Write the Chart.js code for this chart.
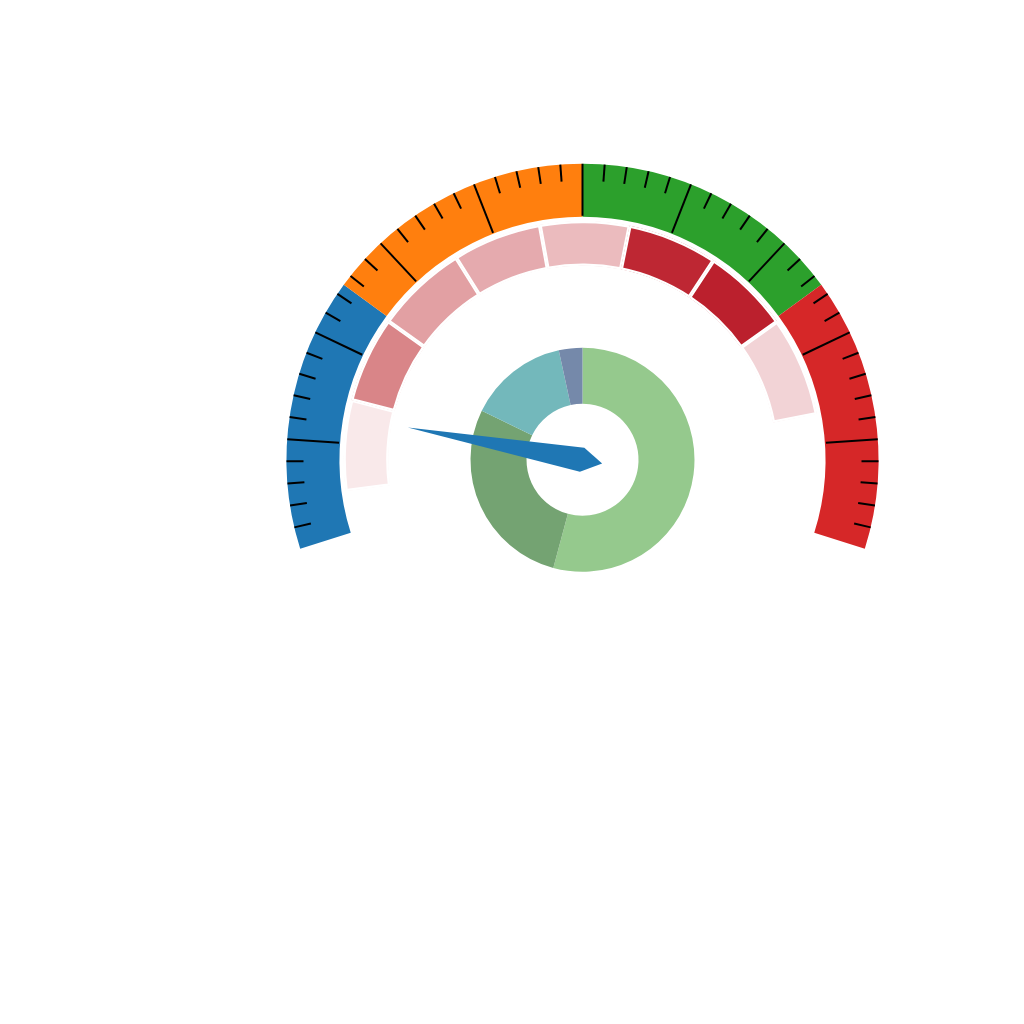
<!DOCTYPE html>
<html>
<head>
<meta charset="utf-8">
<script src="https://cdn.jsdelivr.net/npm/chart.js@4.4.1/dist/chart.umd.min.js"></script>
<style>
  html, body { margin: 0; padding: 0; background: #ffffff; }
  canvas { display: block; }
</style>
</head>
<body>
<canvas id="gauge" width="1024" height="1024"></canvas>
<script>
// ---------------- data ----------------
const scaleMin = 0;
const scaleMax = 100;

const bandLabels = ['Band 1', 'Band 2', 'Band 3', 'Band 4'];
const bandValues = [25, 25, 25, 25];

const ringLabels = ['R1', 'R2', 'R3', 'R4', 'R5', 'R6', 'R7', 'R8'];
const ringStart = 4.65;
const ringValues = [10.25, 9.75, 10.45, 10.1, 10.1, 10.2, 9.9, 11.3];

const pieLabels = ['P1', 'P2', 'P3', 'P4'];
const pieValues = [54.2, 28.0, 14.4, 3.4];

const majorTicks = [10, 20, 30, 40, 50, 60, 70, 80, 90];
const minorTicks = [2, 4, 6, 8, 12, 14, 16, 18, 22, 24, 26, 28, 32, 34, 36, 38,
                    42, 44, 46, 48, 52, 54, 56, 58, 62, 64, 66, 68, 72, 74, 76, 78,
                    82, 84, 86, 88, 92, 94, 96, 98];

const needleValue = 13;

// ---------------- styles ----------------
const bandColors = ['#1f77b4', '#ff7f0e', '#2ca02c', '#d62728'];
const ringColors = ['#f9e9ea', '#d98588', '#e2a0a3', '#e5aaae', '#ebbbbe', '#be2733', '#bb202d', '#f2d3d6'];
const pieColors = ['#95c98d', '#74a372', '#73b8bb', '#7589aa'];
const needleColor = '#1f77b4';

const gaugeRotation = -107.5;   // degrees, clockwise from top
const gaugeSweep = 215;         // degrees

function valueToDeg(v) {
  return gaugeRotation + (v - scaleMin) / (scaleMax - scaleMin) * gaugeSweep;
}
const ringSum = ringValues.reduce((a, b) => a + b, 0);

// ticks + needle drawn from the outer dataset's arc geometry
const gaugeDecor = {
  id: 'gaugeDecor',
  afterDatasetsDraw(chart) {
    const meta = chart.getDatasetMeta(0);
    const first = meta.data[0];
    const last = meta.data[meta.data.length - 1];
    const cx = first.x, cy = first.y;
    const R = first.outerRadius;
    const a0 = first.startAngle, a1 = last.endAngle;
    const ang = v => a0 + (v - scaleMin) / (scaleMax - scaleMin) * (a1 - a0);
    const ctx = chart.ctx;
    ctx.save();
    ctx.strokeStyle = '#000000';
    ctx.lineCap = 'butt';
    const tick = (v, len, w) => {
      const a = ang(v);
      ctx.lineWidth = w;
      ctx.beginPath();
      ctx.moveTo(cx + R * Math.cos(a), cy + R * Math.sin(a));
      ctx.lineTo(cx + (R - len) * Math.cos(a), cy + (R - len) * Math.sin(a));
      ctx.stroke();
    };
    minorTicks.forEach(v => tick(v, 17, 2));
    majorTicks.forEach(v => tick(v, 52, 2));

    // needle
    const a = ang(needleValue);
    const ux = Math.cos(a), uy = Math.sin(a);
    const px = -uy, py = ux;
    const pt = (along, perp) => [cx + ux * along + px * perp, cy + uy * along + py * perp];
    const pts = [pt(R * 0.6, 0), pt(0.4, 12.2), pt(-20, 0), pt(0.4, -12.2)];
    ctx.fillStyle = needleColor;
    ctx.beginPath();
    ctx.moveTo(pts[0][0], pts[0][1]);
    for (let i = 1; i < pts.length; i++) ctx.lineTo(pts[i][0], pts[i][1]);
    ctx.closePath();
    ctx.fill();
    ctx.restore();
  }
};

new Chart(document.getElementById('gauge'), {
  type: 'doughnut',
  data: {
    labels: bandLabels,
    datasets: [
      {
        label: 'bands', data: bandValues, backgroundColor: bandColors,
        borderWidth: 0, weight: 53, rotation: gaugeRotation, circumference: gaugeSweep
      },
      {
        label: 'gap1', data: [1], backgroundColor: 'rgba(0,0,0,0)', borderWidth: 0, weight: 4
      },
      {
        label: 'ring', data: ringValues, backgroundColor: ringColors,
        borderColor: '#ffffff', borderWidth: 2, borderAlign: 'inner', weight: 45,
        rotation: valueToDeg(ringStart),
        circumference: ringSum / (scaleMax - scaleMin) * gaugeSweep
      },
      {
        label: 'gap2', data: [1], backgroundColor: 'rgba(0,0,0,0)', borderWidth: 0, weight: 82
      },
      {
        label: 'pie', data: pieValues, backgroundColor: pieColors,
        borderWidth: 0, weight: 56, rotation: 0, circumference: 360
      }
    ]
  },
  options: {
    responsive: false,
    devicePixelRatio: 1,
    animation: false,
    events: [],
    cutout: 56,
    hoverOffset: 0,
    layout: { padding: { left: 286.5, top: 163.8, right: 145.5, bottom: 268.2 } },
    plugins: { legend: { display: false }, tooltip: { enabled: false }, title: { display: false } }
  },
  plugins: [gaugeDecor]
});
</script>
</body>
</html>
